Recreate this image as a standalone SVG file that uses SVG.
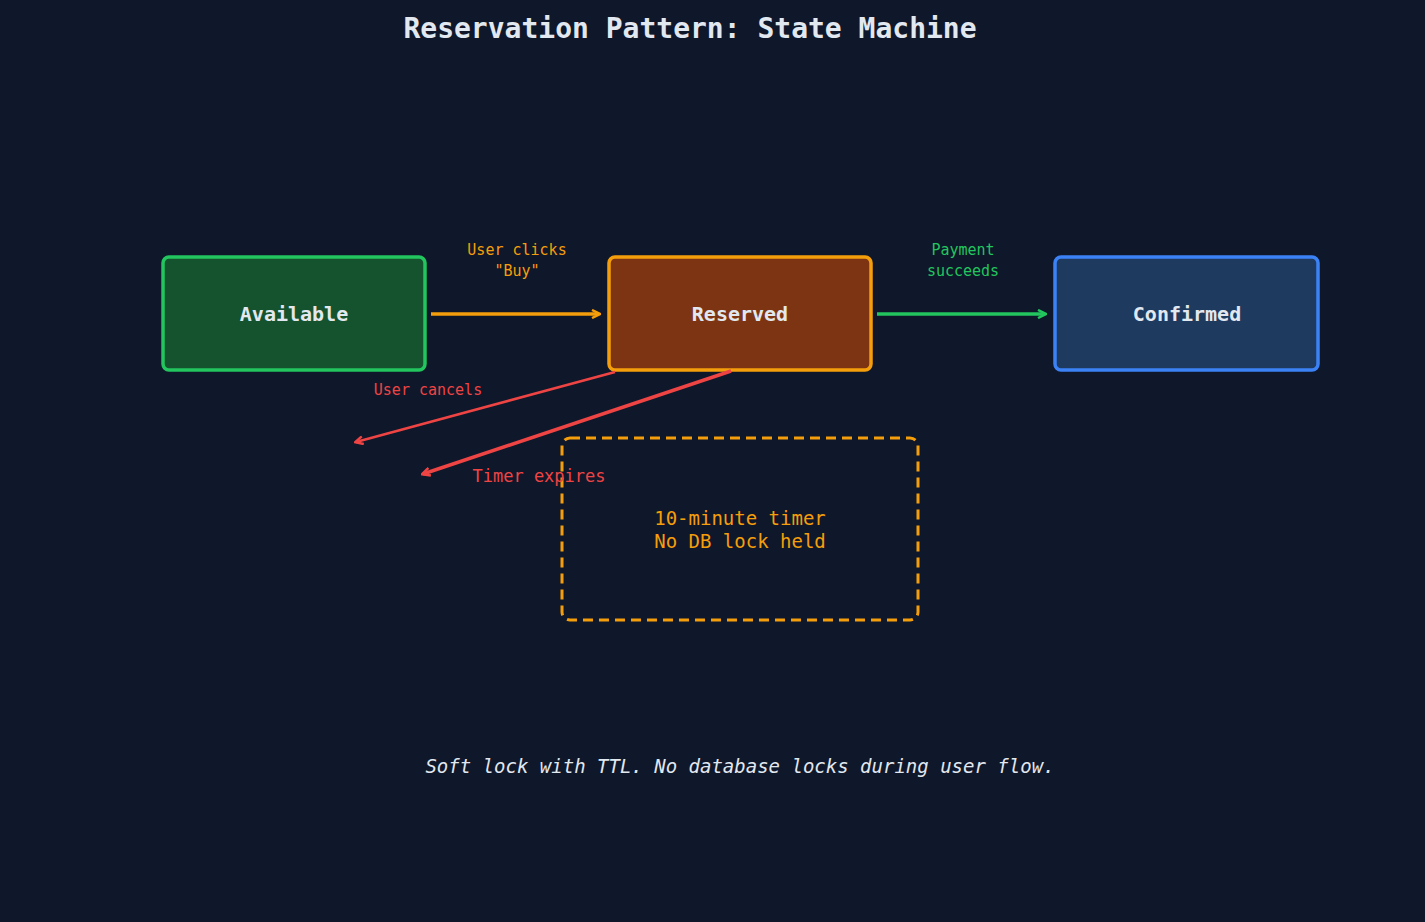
<svg xmlns="http://www.w3.org/2000/svg" width="1425" height="922" viewBox="0 0 1425 922">
<style>
text{font-family:"DejaVu Sans Mono","Liberation Mono",monospace;text-anchor:middle}
.node{stroke-width:3.5}
.nl{fill:#e2e8f0;font-size:20px;font-weight:bold}
</style>
<defs>
<marker id="ao" markerWidth="10" markerHeight="10" refX="8" refY="5" orient="auto" markerUnits="userSpaceOnUse"><path d="M1,1 L9,5 L1,9" fill="none" stroke="#f59e0b" stroke-width="2.5"/></marker>
<marker id="ag" markerWidth="10" markerHeight="10" refX="8" refY="5" orient="auto" markerUnits="userSpaceOnUse"><path d="M1,1 L9,5 L1,9" fill="none" stroke="#22c55e" stroke-width="2.5"/></marker>
<marker id="ar" markerWidth="10" markerHeight="10" refX="8" refY="5" orient="auto" markerUnits="userSpaceOnUse"><path d="M1,1 L9,5 L1,9" fill="none" stroke="#ef4444" stroke-width="2.5"/></marker>
</defs>
<rect width="1425" height="922" fill="#0f172a"/>
<text x="690" y="38" fill="#e2e8f0" font-size="28" font-weight="bold">Reservation Pattern: State Machine</text>
<g id="available"><rect class="node" x="163" y="257" width="262" height="113" rx="6" fill="#14532d" stroke="#22c55e"/><text class="nl" x="294" y="321">Available</text></g>
<g id="reserved"><rect class="node" x="609" y="257" width="262" height="113" rx="6" fill="#7c3412" stroke="#f59e0b"/><text class="nl" x="740" y="321">Reserved</text></g>
<g id="confirmed"><rect class="node" x="1055" y="257" width="263" height="113" rx="6" fill="#1e3a5f" stroke="#3b82f6"/><text class="nl" x="1187" y="321">Confirmed</text></g>
<g id="timer"><rect x="562" y="438" width="356" height="182" rx="8" fill="none" stroke="#f59e0b" stroke-width="3" stroke-dasharray="10,6"/><text x="740" y="525" fill="#f59e0b" font-size="19">10-minute timer</text><text x="740" y="548" fill="#f59e0b" font-size="19">No DB lock held</text></g>
<g id="connectors">
<line x1="431" y1="314" x2="599" y2="314" stroke="#f59e0b" stroke-width="3.5" marker-end="url(#ao)"/>
<line x1="877" y1="314" x2="1045" y2="314" stroke="#22c55e" stroke-width="3.5" marker-end="url(#ag)"/>
<line x1="615" y1="372" x2="356" y2="442" stroke="#ef4444" stroke-width="2.5" marker-end="url(#ar)"/>
<line x1="731" y1="371" x2="423" y2="474" stroke="#ef4444" stroke-width="3.5" marker-end="url(#ar)"/>
<text x="517" y="255" fill="#f59e0b" font-size="15">User clicks</text><text x="517" y="276" fill="#f59e0b" font-size="15">"Buy"</text>
<text x="963" y="255" fill="#22c55e" font-size="15">Payment</text><text x="963" y="276" fill="#22c55e" font-size="15">succeeds</text>
<text x="428" y="395" fill="#ef4444" font-size="15">User cancels</text>
<text x="539" y="482" fill="#ef4444" font-size="17">Timer expires</text>
</g>
<text x="740" y="773" fill="#e2e8f0" font-size="19" font-style="italic">Soft lock with TTL. No database locks during user flow.</text>
</svg>
